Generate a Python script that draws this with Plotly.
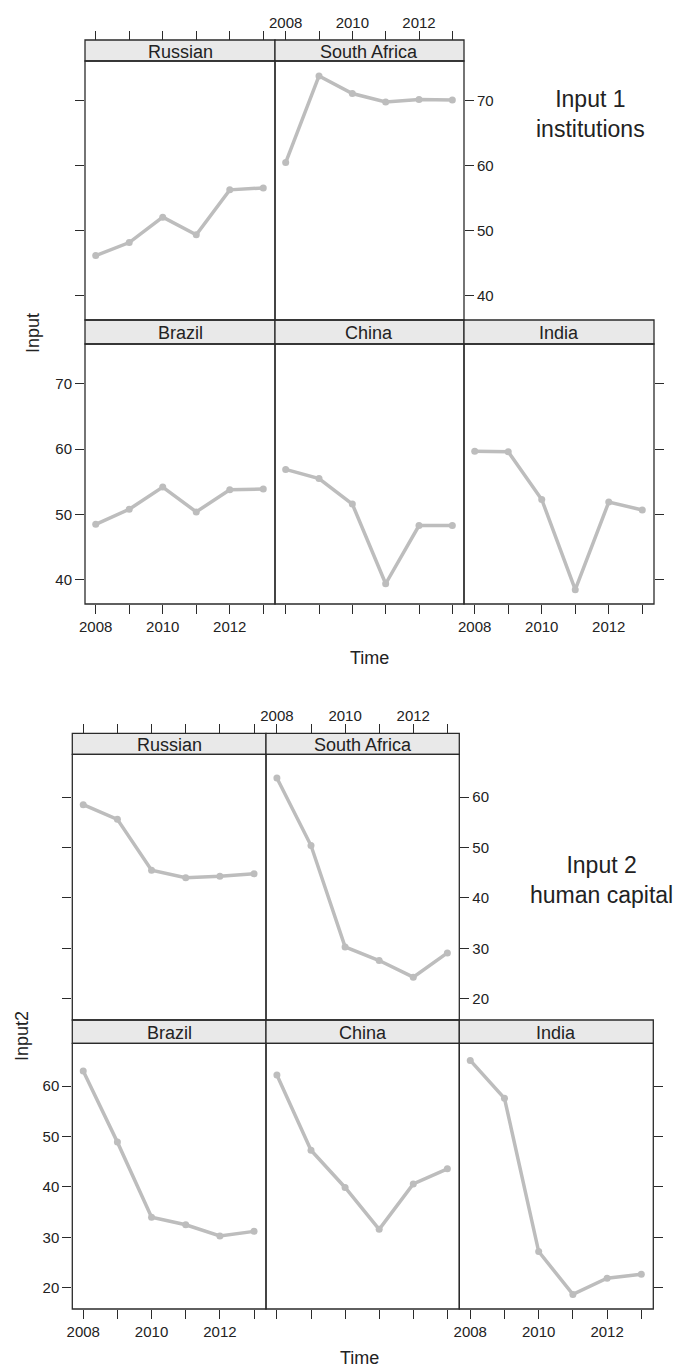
import plotly.graph_objects as go

# ---------------- data ----------------
years = [2008, 2009, 2010, 2011, 2012, 2013]
panel_names = ["Russian", "South Africa", "Brazil", "China", "India"]
year_labels = ["2008", "", "2010", "", "2012", ""]

# Input 1 (institutions)
in1_russian = [46.2, 48.2, 52.1, 49.4, 56.3, 56.6]
in1_south_africa = [60.5, 73.8, 71.1, 69.8, 70.2, 70.1]
in1_brazil = [48.5, 50.8, 54.2, 50.4, 53.8, 53.9]
in1_china = [56.9, 55.5, 51.6, 39.4, 48.3, 48.3]
in1_india = [59.7, 59.6, 52.3, 38.5, 51.9, 50.7]

# Input 2 (human capital)
in2_russian = [58.5, 55.6, 45.5, 44.0, 44.3, 44.8]
in2_south_africa = [63.8, 50.4, 30.3, 27.6, 24.3, 29.1]
in2_brazil = [63.0, 48.9, 34.0, 32.5, 30.3, 31.2]
in2_china = [62.2, 47.3, 39.9, 31.6, 40.6, 43.6]
in2_india = [65.1, 57.6, 27.2, 18.7, 21.9, 22.7]

y1_ticks = [40, 50, 60, 70]
y2_ticks = [20, 30, 40, 50, 60]

# ---------------- layout geometry (pixels) ----------------
W, H = 679, 1372
def px(x):
    return x / W
def py(y):
    return 1 - y / H

LINE = "#2b2b2b"
STRIP = "#e9e9e9"
SERIES = "#bdbdbd"
FONT = "Liberation Sans, Arial, Helvetica, sans-serif"

charts = [
    dict(
        cols=[(85, 275), (275, 464), (464, 654)],
        rows=[(40, 61, 320), (320, 344, 604)],  # strip top, data top, data bottom
        yrange=[36.3, 76.1], yticks=y1_ticks,
        data=[in1_russian, in1_south_africa, in1_brazil, in1_china, in1_india],
    ),
    dict(
        cols=[(72.3, 266), (266, 459.3), (459.3, 653.3)],
        rows=[(733.3, 754.3, 1020), (1020, 1043.3, 1309)],
        yrange=[15.8, 68.5], yticks=y2_ticks,
        data=[in2_russian, in2_south_africa, in2_brazil, in2_china, in2_india],
    ),
]

# panel placement and axis decorations:
# (row, col, xside, xlabels, yside, ylabels)
panel_specs = [
    (0, 0, "top", False, "left", False),     # Russian
    (0, 1, "top", True, "right", True),      # South Africa
    (1, 0, "bottom", True, "left", True),    # Brazil
    (1, 1, "bottom", False, None, False),    # China
    (1, 2, "bottom", True, "right", False),  # India
]

XRANGE = [2007.68, 2013.35]

fig = go.Figure()
layout = dict(
    template="none",
    width=W, height=H,
    margin=dict(l=0, r=0, t=0, b=0, pad=0),
    autosize=False,
    paper_bgcolor="white", plot_bgcolor="white",
    showlegend=False,
    font=dict(family=FONT, color="#222222", size=15),
)
shapes = []
annotations = []

idx = 0
for ch in charts:
    for p, (name, vals) in enumerate(zip(panel_names, ch["data"])):
        idx += 1
        row, col, xside, xlab, yside, ylab = panel_specs[p]
        x0, x1 = ch["cols"][col]
        s_top, d_top, d_bot = ch["rows"][row]
        xa = "xaxis" if idx == 1 else f"xaxis{idx}"
        ya = "yaxis" if idx == 1 else f"yaxis{idx}"
        xref = "x" if idx == 1 else f"x{idx}"
        yref = "y" if idx == 1 else f"y{idx}"

        fig.add_trace(go.Scatter(
            x=years, y=vals, xaxis=xref, yaxis=yref,
            mode="lines+markers",
            line=dict(color=SERIES, width=3.5),
            marker=dict(color=SERIES, size=7, symbol="circle"),
            hoverinfo="x+y",
        ))

        xdict = dict(
            domain=[px(x0), px(x1)], range=XRANGE,
            showgrid=False, zeroline=False, showline=False, automargin=False,
            tickvals=years, ticktext=year_labels,
            ticks="outside" if xside else "", ticklen=9, tickwidth=1.3, tickcolor=LINE,
            showticklabels=xlab,
            tickfont=dict(size=15, family=FONT, color="#222222"),
            fixedrange=True,
        )
        if xside == "top":
            xdict.update(side="top", anchor="free", position=py(s_top), ticklabelstandoff=-3)
        else:
            xdict.update(side="bottom", anchor=yref)
        layout[xa] = xdict

        ydict = dict(
            domain=[py(d_bot), py(d_top)], range=ch["yrange"],
            showgrid=False, zeroline=False, showline=False, automargin=False,
            tickvals=ch["yticks"],
            ticks="outside" if yside else "", ticklen=9, tickwidth=1.3, tickcolor=LINE,
            showticklabels=ylab,
            tickfont=dict(size=15, family=FONT, color="#222222"),
            anchor=xref, side=yside if yside else "left",
            fixedrange=True,
        )
        layout[ya] = ydict

        # strip
        shapes.append(dict(type="rect", xref="paper", yref="paper",
                           x0=px(x0), x1=px(x1), y0=py(d_top), y1=py(s_top),
                           fillcolor=STRIP, line=dict(color=LINE, width=1.3), layer="below"))
        # panel frame
        shapes.append(dict(type="rect", xref="paper", yref="paper",
                           x0=px(x0), x1=px(x1), y0=py(d_bot), y1=py(d_top),
                           fillcolor="rgba(0,0,0,0)", line=dict(color=LINE, width=1.3), layer="above"))
        annotations.append(dict(text=name, xref="paper", yref="paper",
                                x=px((x0 + x1) / 2), y=py((s_top + d_top) / 2 + 1),
                                showarrow=False, xanchor="center", yanchor="middle",
                                font=dict(size=18, family=FONT, color="#222222")))

# axis titles and side labels
def txt(t, x, y, size, angle=0):
    annotations.append(dict(text=t, xref="paper", yref="paper", x=px(x), y=py(y),
                            showarrow=False, xanchor="center", yanchor="middle",
                            textangle=angle, font=dict(size=size, family=FONT, color="#222222")))

txt("Input", 33, 333, 18, -90)
txt("Time", 369.5, 658, 18)
txt("Input 1<br>institutions", 590, 114, 23)
txt("Input2", 22, 1036, 18, -90)
txt("Time", 359, 1358, 18)
txt("Input 2<br>human capital", 601, 880, 23)

layout["shapes"] = shapes
layout["annotations"] = annotations
fig.update_layout(**layout)
fig.write_html(
    "out.html",
    config={"displayModeBar": False},
    post_script="document.body.style.margin='0';document.body.style.overflow='hidden';",
)
